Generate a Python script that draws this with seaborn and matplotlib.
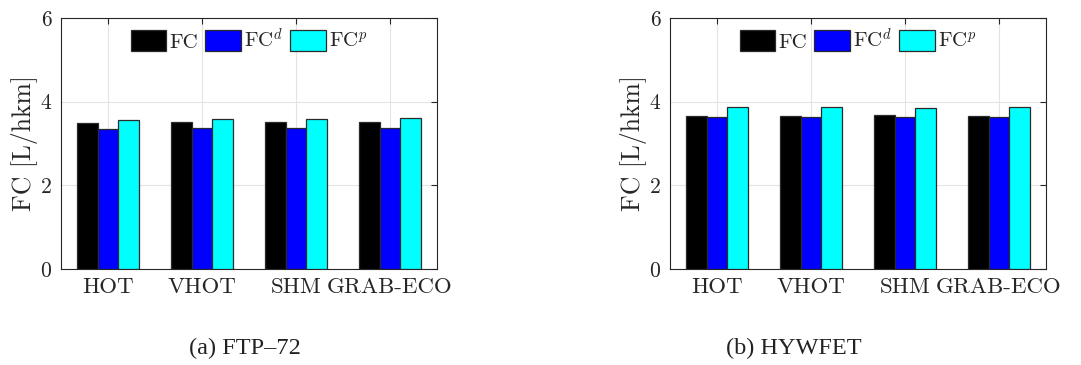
import numpy as np
import pandas as pd
import matplotlib
matplotlib.use("Agg")
import matplotlib.pyplot as plt
import seaborn as sns

categories = ["HOT", "VHOT", "SHM", "GRAB-ECO"]
series_names = ["FC", "FCd", "FCp"]
series_labels = [r"FC", r"FC$^{d}$", r"FC$^{p}$"]

ftp_fc = [3.50, 3.51, 3.52, 3.51]
ftp_fcd = [3.35, 3.38, 3.36, 3.38]
ftp_fcp = [3.57, 3.58, 3.59, 3.61]

hwy_fc = [3.65, 3.65, 3.68, 3.66]
hwy_fcd = [3.63, 3.64, 3.64, 3.64]
hwy_fcp = [3.88, 3.88, 3.85, 3.87]

captions = ["(a) FTP–72", "(b) HYWFET"]
yticks = [0, 2, 4, 6]
ylabel = "FC [L/hkm]"
colors = ["#000000", "#0000ff", "#00ffff"]

sns.set_style("white")
plt.rcParams["font.family"] = ["cmr10"]
plt.rcParams["mathtext.fontset"] = "cm"
plt.rcParams["axes.formatter.use_mathtext"] = True
plt.rcParams["axes.unicode_minus"] = False


def make_df(fc, fcd, fcp):
    rows = []
    for name, vals in zip(series_names, [fc, fcd, fcp]):
        for c, v in zip(categories, vals):
            rows.append({"cat": c, "series": name, "val": v})
    return pd.DataFrame(rows)


fig = plt.figure(figsize=(10.81, 3.65), dpi=100)
ax_pos = [[61 / 1081, 1 - 269 / 365, 376 / 1081, 251 / 365],
          [670 / 1081, 1 - 269 / 365, 376 / 1081, 251 / 365]]
datasets = [(ftp_fc, ftp_fcd, ftp_fcp), (hwy_fc, hwy_fcd, hwy_fcp)]
caption_x = [245 / 1081, 794 / 1081]

for i, (pos, data) in enumerate(zip(ax_pos, datasets)):
    ax = fig.add_axes(pos)
    df = make_df(*data)
    sns.barplot(data=df, x="cat", y="val", hue="series", order=categories,
                hue_order=series_names, palette=colors, width=0.67,
                edgecolor="#2a2a2a", linewidth=0.9, saturation=1, ax=ax,
                zorder=3)
    ax.set_xlim(-0.5, 3.5)
    ax.set_ylim(0, 6)
    ax.set_yticks(yticks)
    ax.set_yticklabels([str(t) for t in yticks])
    ax.set_xticks(range(len(categories)))
    ax.set_xticklabels(categories)
    ax.set_xlabel("")
    ax.set_ylabel(ylabel, fontsize=18.5, color="#262626", labelpad=2)
    ax.grid(True, color="#e3e3e3", linewidth=0.8, zorder=0)
    ax.set_axisbelow(True)
    for s in ax.spines.values():
        s.set_color("#262626")
        s.set_linewidth(0.8)
        s.set_visible(True)
    ax.tick_params(axis="both", direction="in", length=4, width=0.8,
                   colors="#262626", top=True, right=True)
    ax.tick_params(axis="y", labelsize=15.5, pad=7)
    ax.tick_params(axis="x", labelsize=16.5, pad=6)
    handles, _ = ax.get_legend_handles_labels()
    ax.legend(handles, series_labels, loc="upper center", ncol=3,
              frameon=False, fontsize=15, handlelength=1.7,
              handleheight=1.15, columnspacing=0.35, handletextpad=0.15,
              borderaxespad=0.25, borderpad=0.2)
    fig.text(caption_x[i], 1 - 348 / 365, captions[i],
             ha="center", va="center", fontsize=17.5,
             family=["Liberation Serif", "DejaVu Serif"], color="#222222")

fig.savefig("out.png", dpi=100, facecolor="white")
